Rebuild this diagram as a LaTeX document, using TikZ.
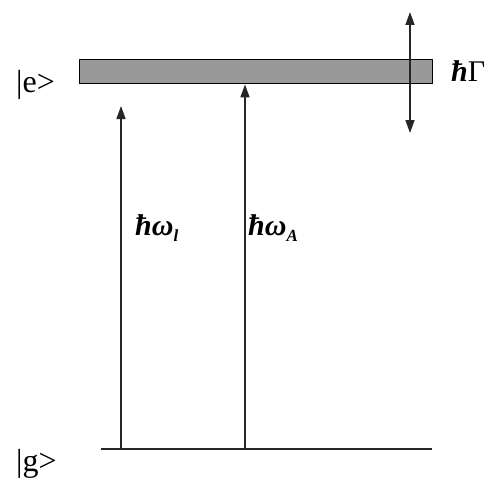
\documentclass[tikz,border=0pt]{standalone}
\usepackage{fontspec}
\setmainfont{Liberation Serif}
\usetikzlibrary{arrows.meta}
\begin{document}
\begin{tikzpicture}[x=1pt,y=-1pt,
  lvl/.style={line width=1.6pt,draw=black!85},
  arr/.style={line width=1.6pt,draw=black!85,-{Triangle[length=13pt,width=9pt]}},
  lbl/.style={inner sep=0pt,font=\fontsize{32}{34}\selectfont},
  mlbl/.style={inner sep=0pt,font=\fontsize{30}{32}\selectfont\bfseries\itshape}]
\useasboundingbox (0,0) rectangle (501,487);
% excited level band
\node[draw=black,line width=1.4pt,fill=black!40,minimum width=353pt,minimum height=24pt,inner sep=0pt,anchor=north west] (band) at (79,59) {};
% ground level
\coordinate (g0) at (101,449);
\coordinate (g1) at (432,449);
\draw[lvl] (g0) -- (g1);
% arrows
\coordinate (l0) at (121,449);
\coordinate (l1) at (121,106);
\coordinate (a0) at (245,449);
\coordinate (c) at (410,72);
\coordinate (cu) at (410,12);
\coordinate (cd) at (410,133);
\draw[arr] (l0) -- (l1);
\draw[arr] (a0) -- (a0 |- band.south);
\draw[arr] (c) -- (cu);
\draw[arr] (c) -- (cd);
% labels
\node[lbl,anchor=west] (e) at (16,85) {|e>};
\node[lbl,anchor=west] (g) at (16,464) {|g>};
\node[mlbl,anchor=west] (G) at (451,71) {ħ\normalfont Γ};
\node[mlbl,anchor=west] (wl) at (135,228) {ħω\raisebox{-6pt}{\fontsize{17}{17}\selectfont\itshape l}};
\node[mlbl,anchor=west] (wA) at (248,228) {ħω\raisebox{-6pt}{\fontsize{17}{17}\selectfont\itshape A}};
\end{tikzpicture}
\end{document}
